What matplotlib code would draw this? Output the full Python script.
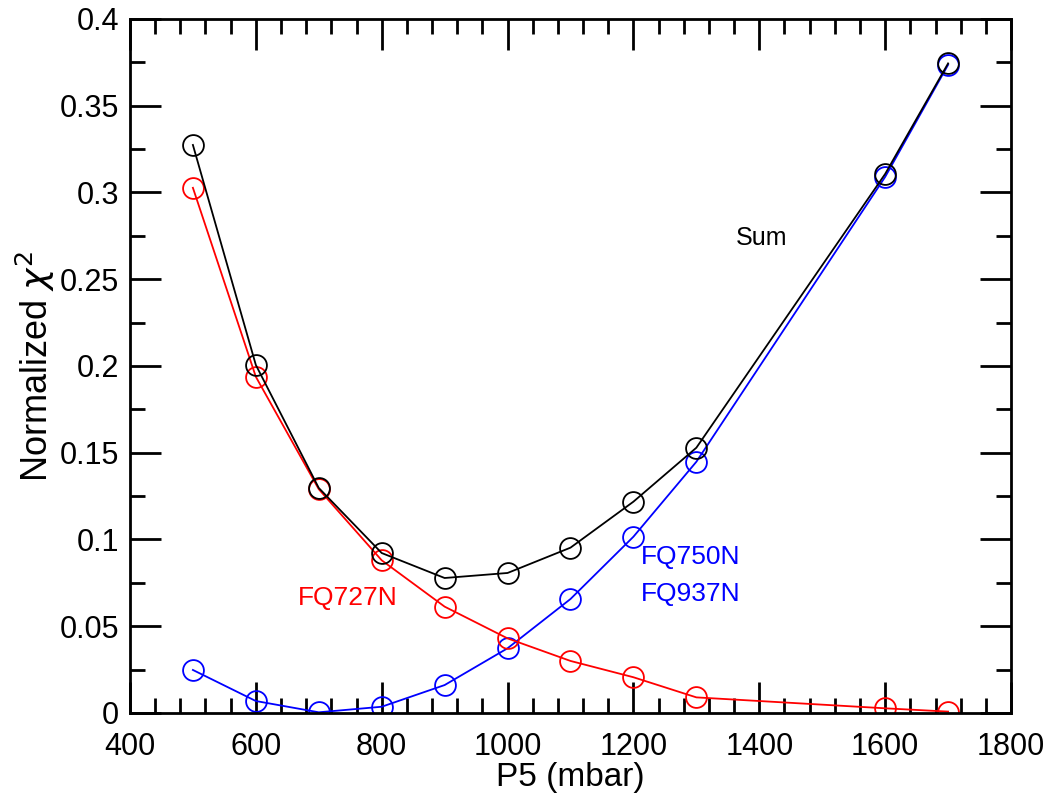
import matplotlib
matplotlib.use("Agg")
import matplotlib.pyplot as plt
from matplotlib.ticker import MultipleLocator

plt.rcParams['font.family'] = ['Liberation Sans', 'DejaVu Sans']
plt.rcParams['mathtext.fontset'] = 'dejavusans'

# P5 pressure (mbar)
p5 = [500, 600, 700, 800, 900, 1000, 1100, 1200, 1300, 1600, 1700]
# normalized chi^2 per filter set
chi_727 = [0.3027, 0.1938, 0.129, 0.088, 0.0613, 0.043, 0.030, 0.0206, 0.009, 0.0027, 0.0008]
chi_750_937 = [0.0248, 0.0069, 0.0004, 0.0036, 0.0161, 0.0373, 0.0657, 0.1016, 0.1448, 0.309, 0.3736]
chi_sum = [0.3274, 0.2006, 0.1297, 0.0922, 0.0778, 0.0807, 0.0953, 0.1218, 0.1529, 0.3107, 0.3744]

fig = plt.figure(figsize=(10.49, 8.05), dpi=100)
ax = fig.add_axes([0.1239, 0.1143, 0.8399, 0.8621])

style = dict(marker='o', markersize=15, markerfacecolor='none', markeredgewidth=1.3, linewidth=1.3)
ax.plot(p5, chi_750_937, color='blue', **style)
ax.plot(p5, chi_727, color='red', **style)
ax.plot(p5, chi_sum, color='black', **style)

ax.set_xlim(400, 1800)
ax.set_ylim(0, 0.4)
ax.xaxis.set_major_locator(MultipleLocator(200))
ax.xaxis.set_minor_locator(MultipleLocator(40))
ax.yaxis.set_major_locator(MultipleLocator(0.05))
ax.yaxis.set_minor_locator(MultipleLocator(0.025))
ax.yaxis.set_major_formatter(plt.FuncFormatter(lambda v, p: '0' if v == 0 else ('%g' % v)))
ax.tick_params(which='both', direction='in', top=True, right=True, width=2, labelsize=22)
ax.tick_params(which='major', length=22)
ax.tick_params(which='minor', length=11)
ax.tick_params(axis='x', pad=14)
ax.tick_params(axis='y', pad=8)
for s in ax.spines.values():
    s.set_linewidth(2)

ax.set_xlabel('P5 (mbar)', fontsize=24, labelpad=0)
ax.set_ylabel(r'Normalized $\chi^2$', fontsize=26, labelpad=2)

ax.text(1404, 0.2735, 'Sum', color='black', fontsize=18, ha='center', va='center')
ax.text(746, 0.0663, 'FQ727N', color='red', fontsize=19, ha='center', va='center')
ax.text(1212, 0.0899, 'FQ750N', color='blue', fontsize=19, ha='left', va='center')
ax.text(1212, 0.0686, 'FQ937N', color='blue', fontsize=19, ha='left', va='center')

fig.savefig('out.png', dpi=100)
